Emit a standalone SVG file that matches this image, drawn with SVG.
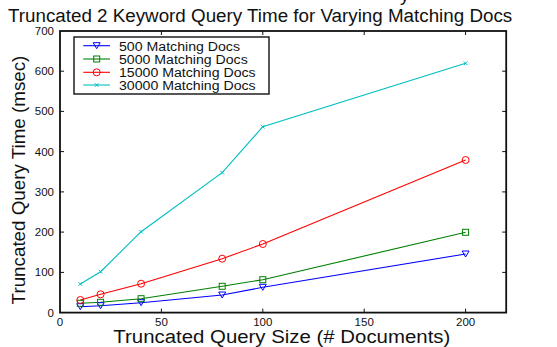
<svg xmlns="http://www.w3.org/2000/svg" width="557" height="347" viewBox="0 0 557 347">
<style>
text{font-family:"Liberation Sans",Arial,sans-serif;fill:#111}
.tick{font-size:11.5px}
.axis{fill:none;stroke:#111;stroke-width:1.8}
.tk{stroke:#111;stroke-width:1}
.s{fill:none;stroke-width:1.1}
.blue{stroke:#0000ff}
.green{stroke:#008000}
.red{stroke:#ff0000}
.cyan{stroke:#00bfbf}
.leg{font-size:12px}
</style>
<defs>
<polygon id="mTri" points="-3.5,-3 3.5,-3 0,3" fill="none" stroke="#0000ff" stroke-width="1"/>
<rect id="mSq" x="-3" y="-3" width="6" height="6" fill="none" stroke="#008000" stroke-width="1"/>
<circle id="mCir" r="3.5" fill="none" stroke="#ff0000" stroke-width="1"/>
<path id="mX" d="M-1.8,-1.8L1.8,1.8M-1.8,1.8L1.8,-1.8" fill="none" stroke="#00bfbf" stroke-width="1"/>
</defs>

<g id="title">
<text x="400" y="1" font-size="18.8">y</text>
<text x="8" y="22" font-size="18.8">Truncated 2 Keyword Query Time for Varying Matching Docs</text>
</g>

<g id="axes">
<rect class="axis" x="60" y="31" width="446.2" height="281.6"/>
<g class="tk">
<path d="M161.4,312.6v-4M262.8,312.6v-4M364.2,312.6v-4M465.6,312.6v-4M161.4,31v4M262.8,31v4M364.2,31v4M465.6,31v4"/>
<path d="M60,272.4h4M60,232.1h4M60,191.9h4M60,151.6h4M60,111.4h4M60,71.2h4M506.2,272.4h-4M506.2,232.1h-4M506.2,191.9h-4M506.2,151.6h-4M506.2,111.4h-4M506.2,71.2h-4"/>
</g>
<g class="tick" text-anchor="end">
<text x="54" y="316.6">0</text>
<text x="54" y="276.4">100</text>
<text x="54" y="236.1">200</text>
<text x="54" y="195.9">300</text>
<text x="54" y="155.6">400</text>
<text x="54" y="115.4">500</text>
<text x="54" y="75.2">600</text>
<text x="54" y="35">700</text>
</g>
<g class="tick" text-anchor="middle">
<text x="60" y="325.5">0</text>
<text x="161.4" y="325.5">50</text>
<text x="262.8" y="325.5">100</text>
<text x="364.2" y="325.5">150</text>
<text x="465.6" y="325.5">200</text>
</g>
<text x="113.3" y="343" font-size="19.2" textLength="337" lengthAdjust="spacingAndGlyphs">Truncated Query Size (# Documents)</text>
<text transform="translate(25,180) rotate(-90)" font-size="18.8" text-anchor="middle">Truncated Query Time (msec)</text>
</g>

<g id="connectors">
<polyline id="s500" class="s blue" points="80.3,306.7 100.6,305.7 141.1,302.7 222.2,295 262.8,287.3 465.6,254"/>
<polyline id="s5000" class="s green" points="80.3,303.3 100.6,302.3 141.1,298.7 222.2,286.3 262.8,279.7 465.6,232.3"/>
<polyline id="s15000" class="s red" points="80.3,300 100.6,294.3 141.1,283.7 222.2,258.7 262.8,244 465.6,160"/>
<polyline id="s30000" class="s cyan" points="80.3,284 100.6,271.7 141.1,231.7 222.2,172.7 262.8,126.7 465.6,63.3"/>
</g>

<g id="markers500">
<use href="#mTri" x="80.3" y="306.7"/><use href="#mTri" x="100.6" y="305.7"/><use href="#mTri" x="141.1" y="302.7"/><use href="#mTri" x="222.2" y="295"/><use href="#mTri" x="262.8" y="287.3"/><use href="#mTri" x="465.6" y="254"/>
</g>
<g id="markers5000">
<use href="#mSq" x="80.3" y="303.3"/><use href="#mSq" x="100.6" y="302.3"/><use href="#mSq" x="141.1" y="298.7"/><use href="#mSq" x="222.2" y="286.3"/><use href="#mSq" x="262.8" y="279.7"/><use href="#mSq" x="465.6" y="232.3"/>
</g>
<g id="markers15000">
<use href="#mCir" x="80.3" y="300"/><use href="#mCir" x="100.6" y="294.3"/><use href="#mCir" x="141.1" y="283.7"/><use href="#mCir" x="222.2" y="258.7"/><use href="#mCir" x="262.8" y="244"/><use href="#mCir" x="465.6" y="160"/>
</g>
<g id="markers30000">
<use href="#mX" x="80.3" y="284"/><use href="#mX" x="100.6" y="271.7"/><use href="#mX" x="141.1" y="231.7"/><use href="#mX" x="222.2" y="172.7"/><use href="#mX" x="262.8" y="126.7"/><use href="#mX" x="465.6" y="63.3"/>
</g>

<g id="legend">
<rect x="74" y="37" width="195" height="57" fill="#fff" stroke="#111" stroke-width="1.4"/>
<path class="s blue" d="M83.3,45.7H110"/><use href="#mTri" x="96.7" y="45.7"/>
<path class="s green" d="M83.3,59H110"/><use href="#mSq" x="96.7" y="59"/>
<path class="s red" d="M83.3,72.3H110"/><use href="#mCir" x="96.7" y="72.3"/>
<path class="s cyan" d="M83.3,85H110"/><use href="#mX" x="96.7" y="85"/>
<g class="leg">
<text x="119" y="50.5" textLength="121" lengthAdjust="spacingAndGlyphs">500 Matching Docs</text>
<text x="119" y="63.8" textLength="128.7" lengthAdjust="spacingAndGlyphs">5000 Matching Docs</text>
<text x="119" y="76.8" textLength="136.7" lengthAdjust="spacingAndGlyphs">15000 Matching Docs</text>
<text x="119" y="89.5" textLength="136.7" lengthAdjust="spacingAndGlyphs">30000 Matching Docs</text>
</g>
</g>
</svg>
